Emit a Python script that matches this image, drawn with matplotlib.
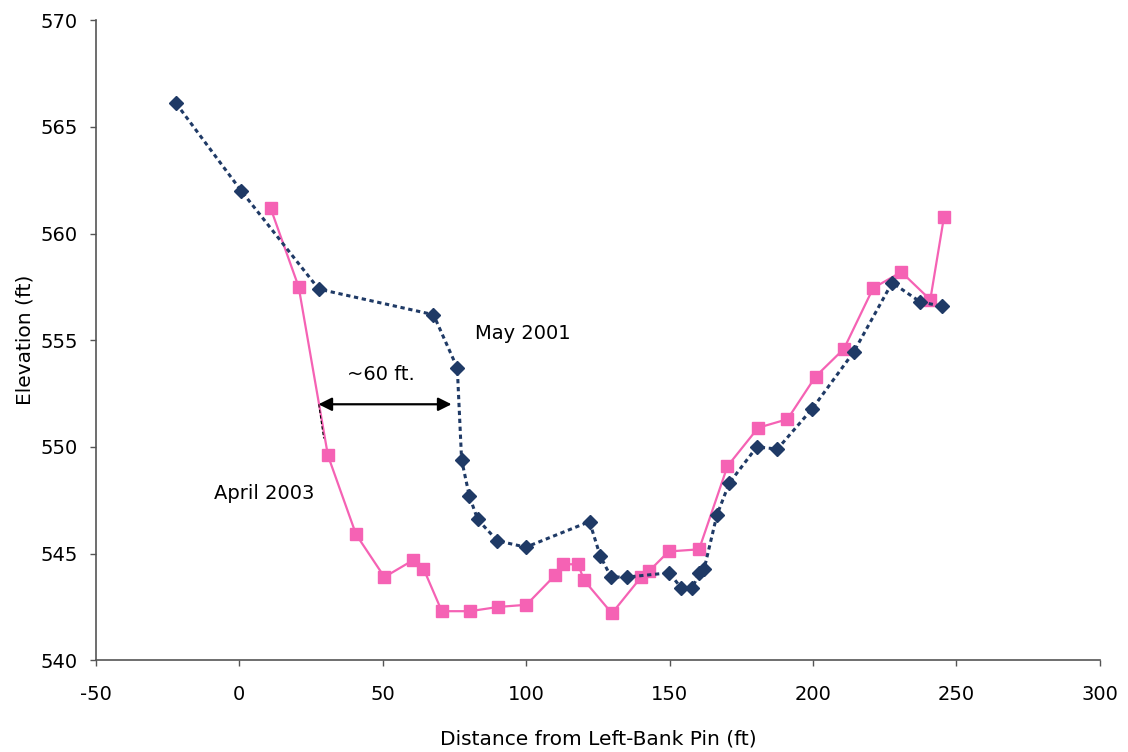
import matplotlib.pyplot as plt

plt.rcParams['axes.unicode_minus'] = False

# cross-section survey, May 2001 (dotted, navy diamonds)
may_x = [-22, 0.7, 27.7, 67.7, 76.0, 77.5, 80.2, 83.1, 90.0, 99.9, 122.1, 125.8,
         129.6, 135.2, 149.9, 154.0, 158.0, 160.3, 162.1, 166.5, 170.8, 180.4,
         187.6, 199.8, 214.2, 227.6, 237.4, 244.9]
may_y = [566.1, 562.0, 557.4, 556.2, 553.7, 549.4, 547.7, 546.6, 545.6, 545.3, 546.5, 544.9,
         543.9, 543.9, 544.1, 543.4, 543.4, 544.1, 544.3, 546.8, 548.3, 550.0,
         549.9, 551.8, 554.45, 557.7, 556.8, 556.6]

# April 2003 (solid, pink squares)
apr_x = [10.9, 20.7, 30.9, 40.7, 50.6, 60.7, 64.2, 70.6, 80.4, 90.3, 100.1, 110.2,
         112.9, 118.1, 120.2, 129.9, 140.1, 143.0, 149.7, 160.3, 170.2, 180.9,
         191.1, 200.9, 210.8, 221.0, 230.8, 240.9, 245.7]
apr_y = [561.2, 557.5, 549.6, 545.9, 543.9, 544.7, 544.3, 542.3, 542.3, 542.5, 542.6, 544.0,
         544.5, 544.5, 543.75, 542.2, 543.9, 544.2, 545.1, 545.2, 549.1, 550.9,
         551.3, 553.3, 554.6, 557.45, 558.2, 556.9, 560.8]

navy = '#1f3a66'
pink = '#f562b4'

fig = plt.figure(figsize=(11.28, 7.52), dpi=100)
ax = fig.add_axes([0.085, 0.122, 0.89, 0.851])

ax.plot(apr_x, apr_y, color=pink, lw=1.6, marker='s', ms=8, mec=pink, mfc=pink, zorder=2)
ax.plot(may_x, may_y, color=navy, lw=2.2, ls=(0, (1.4, 1.2)), marker='D', ms=7.5,
        mec=navy, mfc=navy, zorder=3)

# short dashed leader where the arrow meets the April line
ax.plot([27.7, 29.4], [552.0, 550.4], color='black', lw=0.8, ls=(0, (3, 2)), zorder=4)

# ~60 ft. arrow
ax.annotate('', xy=(74.0, 552.0), xytext=(27.6, 552.0),
            arrowprops=dict(arrowstyle='<|-|>', color='black', lw=1.6,
                            mutation_scale=20, shrinkA=0, shrinkB=0))
ax.text(49.5, 553.4, '~60 ft.', fontsize=14, ha='center', va='center')
ax.text(99, 555.3, 'May 2001', fontsize=14, ha='center', va='center')
ax.text(8.7, 547.8, 'April 2003', fontsize=14, ha='center', va='center')

ax.set_xlim(-50, 300)
ax.set_ylim(540, 570)
ax.set_xticks(range(-50, 301, 50))
ax.set_yticks(range(540, 571, 5))
ax.tick_params(labelsize=14, length=4, color='#555555', width=1)
ax.tick_params(axis='x', pad=14)
ax.tick_params(axis='y', pad=9)

for side in ['top', 'right']:
    ax.spines[side].set_visible(False)
for side in ['left', 'bottom']:
    ax.spines[side].set_color('#555555')
    ax.spines[side].set_linewidth(1.2)

ax.set_xlabel('Distance from Left-Bank Pin (ft)', fontsize=14.5, labelpad=18)
ax.set_ylabel('Elevation (ft)', fontsize=14.5, labelpad=4)

plt.savefig('out.png', dpi=100)
